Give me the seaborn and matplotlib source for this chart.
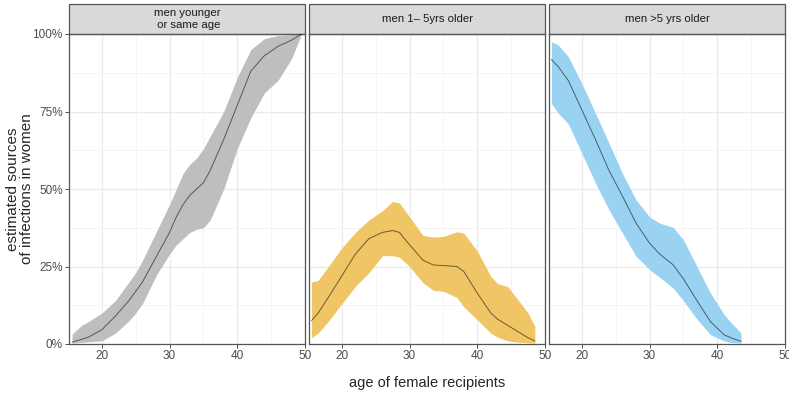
import numpy as np
import pandas as pd
import seaborn as sns
import matplotlib.pyplot as plt
from matplotlib.patches import Rectangle
from matplotlib.ticker import FixedLocator, PercentFormatter

# panel titles
panels = ["men younger\n or same age", "men 1\u2013 5yrs older", "men >5 yrs older"]
band_colors = ["#BEBEBE", "#F0C566", "#9AD2F2"]

# men younger or same age
age_young = [15.6, 17, 18, 20, 22, 24, 25, 26, 28, 30, 31, 32, 33, 34, 35, 36, 38, 40, 42, 44, 46, 48, 49.5]
mid_young = [0.006, 0.015, 0.022, 0.046, 0.09, 0.14, 0.17, 0.20, 0.28, 0.36, 0.41, 0.45, 0.48, 0.50, 0.52, 0.56,
             0.66, 0.77, 0.88, 0.93, 0.96, 0.98, 1.0]
hi_young = [0.032, 0.06, 0.072, 0.10, 0.14, 0.20, 0.23, 0.27, 0.36, 0.45, 0.50, 0.55, 0.58, 0.60, 0.63, 0.67,
            0.75, 0.86, 0.95, 0.985, 0.995, 0.998, 1.0]
lo_young = [0.003, 0.005, 0.007, 0.01, 0.035, 0.075, 0.10, 0.13, 0.22, 0.29, 0.32, 0.34, 0.36, 0.37, 0.375, 0.40,
            0.50, 0.63, 0.73, 0.81, 0.85, 0.92, 1.0]

# men 1-5 yrs older
age_mid = [15.5, 16.5, 18, 20, 22, 24, 26, 27.5, 28.5, 30, 32, 33.5, 35, 37, 38, 40, 42, 43, 44.5, 46, 47.5, 48.5]
mid_mid = [0.075, 0.10, 0.15, 0.22, 0.29, 0.34, 0.36, 0.366, 0.36, 0.32, 0.27, 0.255, 0.253, 0.25, 0.234, 0.164,
           0.10, 0.08, 0.06, 0.04, 0.02, 0.01]
hi_mid = [0.20, 0.205, 0.25, 0.31, 0.36, 0.40, 0.43, 0.46, 0.455, 0.41, 0.35, 0.345, 0.347, 0.362, 0.358, 0.30,
          0.218, 0.195, 0.185, 0.143, 0.10, 0.057]
lo_mid = [0.02, 0.035, 0.073, 0.13, 0.186, 0.23, 0.285, 0.285, 0.28, 0.25, 0.197, 0.173, 0.17, 0.15, 0.12, 0.078,
          0.035, 0.022, 0.01, 0.006, 0.004, 0.003]

# men >5 yrs older
age_old = [15.5, 16.5, 18, 20, 22, 24, 26, 28, 30, 31.5, 33.5, 35, 37, 39, 41, 42, 43.5]
mid_old = [0.918, 0.895, 0.85, 0.755, 0.66, 0.56, 0.477, 0.39, 0.325, 0.29, 0.255, 0.21, 0.14, 0.072, 0.03, 0.02, 0.009]
hi_old = [0.975, 0.965, 0.927, 0.84, 0.745, 0.648, 0.55, 0.465, 0.41, 0.39, 0.376, 0.336, 0.25, 0.164, 0.095, 0.07, 0.035]
lo_old = [0.776, 0.745, 0.71, 0.615, 0.52, 0.433, 0.358, 0.283, 0.24, 0.215, 0.18, 0.14, 0.08, 0.03, 0.01, 0.005, 0.003]

series = [(age_young, mid_young, lo_young, hi_young),
          (age_mid, mid_mid, lo_mid, hi_mid),
          (age_old, mid_old, lo_old, hi_old)]

sns.set_theme(style="white")
plt.rcParams['font.family'] = ['Liberation Sans', 'DejaVu Sans']

fig, axes = plt.subplots(1, 3, figsize=(7.89, 3.95), dpi=100, sharey=True)
fig.subplots_adjust(left=69 / 789, right=785 / 789, bottom=1 - 344 / 395, top=1 - 34 / 395, wspace=0.017)

for i, (ax, title, col, (age, mid, lo, hi)) in enumerate(zip(axes, panels, band_colors, series)):
    df = pd.DataFrame({"age": age, "mid": mid})
    ax.fill_between(age, lo, hi, color=col, lw=0, zorder=2)
    sns.lineplot(data=df, x="age", y="mid", ax=ax, color="black", alpha=0.55, lw=0.7, zorder=3)
    ax.set_xlim(15.15, 50)
    ax.set_ylim(0, 1)
    ax.xaxis.set_major_locator(FixedLocator([20, 30, 40, 50]))
    ax.xaxis.set_minor_locator(FixedLocator([15, 25, 35, 45]))
    ax.yaxis.set_major_locator(FixedLocator([0, 0.25, 0.5, 0.75, 1]))
    ax.yaxis.set_minor_locator(FixedLocator([0.125, 0.375, 0.625, 0.875]))
    ax.yaxis.set_major_formatter(PercentFormatter(1.0, decimals=0))
    ax.grid(which="major", color="#EBEBEB", lw=0.9, zorder=0)
    ax.grid(which="minor", color="#F3F3F3", lw=0.6, zorder=0)
    ax.set_axisbelow(True)
    for s in ax.spines.values():
        s.set_color("#555555")
        s.set_linewidth(0.9)
    ax.tick_params(which="major", length=3, width=0.6, color="#333333", labelsize=8.5,
                   labelcolor="#4D4D4D", pad=1.5, left=(i == 0), bottom=True)
    ax.tick_params(which="minor", length=0)
    ax.set_xlabel("")
    ax.set_ylabel("")
    # facet strip
    ax.add_patch(Rectangle((0, 1), 1, 30 / 310, transform=ax.transAxes, clip_on=False,
                           facecolor="#D9D9D9", edgecolor="#555555", lw=0.9))
    ax.text(0.5, 1 + 15 / 310, title, transform=ax.transAxes, ha="center", va="center",
            fontsize=8.2, color="#1A1A1A", linespacing=1.15)

fig.text(20 / 789, 1 - 189 / 395, "estimated sources\nof infections in women", rotation=90,
         ha="center", va="center", fontsize=11, linespacing=1.05)
fig.text((69 + 785) / 2 / 789, 1 - 383 / 395, "age of female recipients", ha="center", va="center", fontsize=10.5)

fig.savefig("out.png", dpi=100)
